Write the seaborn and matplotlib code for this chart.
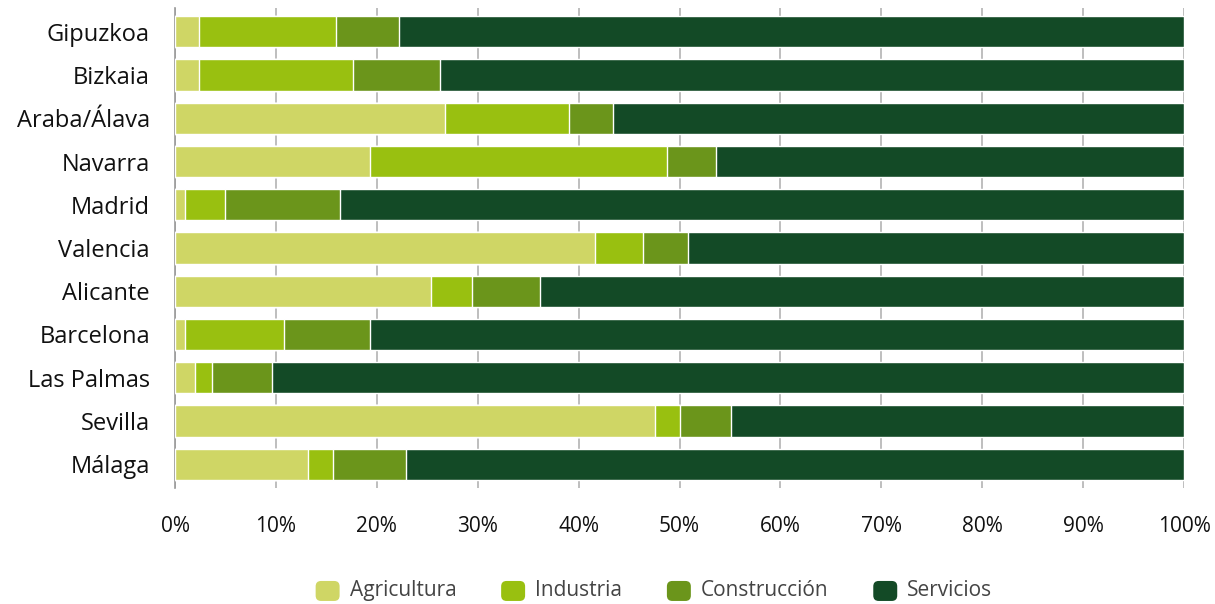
import matplotlib
matplotlib.use("Agg")
import matplotlib.pyplot as plt
from matplotlib.patches import FancyBboxPatch, Patch
from matplotlib.legend_handler import HandlerPatch
from matplotlib.ticker import PercentFormatter
import numpy as np
import pandas as pd
import seaborn as sns

# Sector shares of employment by province (%)
provincias = ["Gipuzkoa", "Bizkaia", "Araba/Álava", "Navarra", "Madrid", "Valencia",
              "Alicante", "Barcelona", "Las Palmas", "Sevilla", "Málaga"]
agricultura = [2.4, 2.4, 26.8, 19.3, 1.0, 41.6, 25.4, 1.0, 2.0, 47.6, 13.2]
industria = [13.6, 15.2, 12.2, 29.5, 4.0, 4.8, 4.0, 9.8, 1.7, 2.4, 2.5]
construccion = [6.2, 8.7, 4.4, 4.8, 11.4, 4.4, 6.8, 8.5, 5.9, 5.1, 7.2]
servicios = [77.8, 73.7, 56.6, 46.4, 83.6, 49.2, 63.8, 80.7, 90.4, 44.9, 77.1]

sectores = ["Agricultura", "Industria", "Construcción", "Servicios"]
colores = ["#CFD665", "#99C010", "#6B951B", "#134A26"]

df = pd.DataFrame({
    "provincia": provincias,
    "Agricultura": agricultura,
    "Industria": industria,
    "Construcción": construccion,
    "Servicios": servicios,
})
cum = df[sectores].cumsum(axis=1)

sns.set_theme(style="white")
plt.rcParams["font.family"] = ["Open Sans", "DejaVu Sans"]

fig = plt.figure(figsize=(12.15, 6.04), dpi=100)
ax = fig.add_axes([175 / 1215, 1 - 488 / 604, (1184 - 175) / 1215, (488 - 8) / 604])

# Stacked bars: draw cumulative totals from the outermost layer inward
for sector, color in zip(reversed(sectores), reversed(colores)):
    sns.barplot(x=cum[sector], y=df["provincia"], orient="h", color=color,
                width=0.72, saturation=1, ax=ax, zorder=3)

ax.set_xlim(0, 100)
ax.set_ylim(10.55, -0.55)
ax.set_xticks(np.arange(0, 101, 10))
ax.xaxis.set_major_formatter(PercentFormatter(decimals=0))
ax.set_xlabel("")
ax.set_ylabel("")
ax.grid(axis="x", color="#b3b3b3", linewidth=1.2, zorder=0)
ax.set_axisbelow(True)
for side in ["top", "right", "bottom"]:
    ax.spines[side].set_visible(False)
ax.spines["left"].set_color("#999999")
ax.spines["left"].set_linewidth(1.2)
ax.tick_params(axis="both", length=0, colors="#111111")
ax.tick_params(axis="x", labelsize=15, pad=20)
ax.tick_params(axis="y", labelsize=17, pad=18)


class RoundedHandler(HandlerPatch):
    def create_artists(self, legend, orig_handle, xdescent, ydescent, width,
                       height, fontsize, trans):
        r = min(width, height) * 0.27
        p = FancyBboxPatch((-xdescent, -ydescent - height * 0.1), width, height,
                           boxstyle=f"round,pad=0,rounding_size={r}",
                           facecolor=orig_handle.get_facecolor(), edgecolor="none",
                           transform=trans)
        return [p]


handles = [Patch(facecolor=c, label=s) for s, c in zip(sectores, colores)]
fig.legend(handles=handles, loc="center", ncol=4,
           bbox_to_anchor=(654 / 1215, 1 - 590 / 604), frameon=False,
           handler_map={Patch: RoundedHandler()}, fontsize=15,
           labelcolor="#444444", handlelength=1.15, handleheight=1.1,
           handletextpad=0.48, columnspacing=2.15)

fig.savefig("out.png", dpi=100)
